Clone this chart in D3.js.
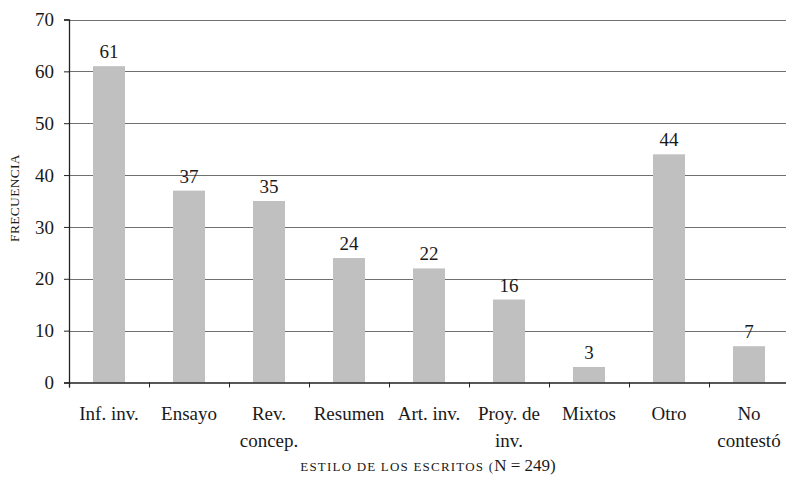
<!DOCTYPE html>
<html>
<head>
<meta charset="utf-8">
<script src="https://cdn.jsdelivr.net/npm/d3@7"></script>
<style>
  html, body { margin: 0; padding: 0; background: #fff; }
  svg { display: block; }
</style>
</head>
<body>
<svg id="chart" width="786" height="485"></svg>
<script>
// Frecuencia de cada estilo de escrito
const categories = ["Inf. inv.", "Ensayo", "Rev. concep.", "Resumen", "Art. inv.", "Proy. de inv.", "Mixtos", "Otro", "No contestó"];
const categoryLines = [["Inf. inv."], ["Ensayo"], ["Rev.", "concep."], ["Resumen"], ["Art. inv."], ["Proy. de", "inv."], ["Mixtos"], ["Otro"], ["No", "contestó"]];
const frequencies = [61, 37, 35, 24, 22, 16, 3, 44, 7];
const yTicks = [0, 10, 20, 30, 40, 50, 60, 70];
const yTitle = "FRECUENCIA";
const xTitleCaps = "ESTILO DE LOS ESCRITOS (";
const xTitleRest = "N = 249)";

const FONT = "'Liberation Serif', 'Times New Roman', Times, serif";
const INK = "#1a1a1a";

const svg = d3.select("#chart");
const plotLeft = 69, plotRight = 789, plotTop = 19.5, plotBottom = 382.5;

const x = d3.scaleBand()
  .domain(categories)
  .range([plotLeft, plotRight])
  .paddingInner(0.6)
  .paddingOuter(0.3);

const y = d3.scaleLinear().domain([0, 70]).range([plotBottom, plotTop]);

// horizontal gridlines
svg.append("g")
  .selectAll("line")
  .data(yTicks.filter(d => d > 0))
  .join("line")
  .attr("x1", plotLeft).attr("x2", 786)
  .attr("y1", d => Math.round(y(d)) + 0.5)
  .attr("y2", d => Math.round(y(d)) + 0.5)
  .attr("stroke", "#707070")
  .attr("stroke-width", 1.2);

// bars
svg.append("g")
  .selectAll("rect")
  .data(frequencies)
  .join("rect")
  .attr("x", (d, i) => x(categories[i]))
  .attr("width", x.bandwidth())
  .attr("y", d => y(d))
  .attr("height", d => y(0) - y(d))
  .attr("fill", "#c0c0c0");

// value labels
svg.append("g")
  .selectAll("text")
  .data(frequencies)
  .join("text")
  .attr("x", (d, i) => x(categories[i]) + x.bandwidth() / 2)
  .attr("y", d => y(d) - 8)
  .attr("text-anchor", "middle")
  .attr("font-family", FONT)
  .attr("font-size", 19)
  .attr("fill", INK)
  .text(d => d);

// y axis
const yAxis = svg.append("g")
  .attr("transform", `translate(${plotLeft},0)`)
  .call(d3.axisLeft(y).tickValues(yTicks).tickSize(5).tickPadding(10).tickFormat(d3.format("d")))
  .attr("font-family", FONT)
  .attr("font-size", 19);
yAxis.select(".domain").attr("stroke", "#222").attr("stroke-width", 1.3);
yAxis.selectAll(".tick line").attr("stroke", "#222");
yAxis.selectAll(".tick text").attr("fill", INK);

// x axis: ticks at category boundaries
const xb = d3.scaleLinear().domain([0, categories.length]).range([plotLeft, plotRight]);
const xAxis = svg.append("g")
  .attr("transform", `translate(0,${plotBottom})`)
  .call(d3.axisBottom(xb).tickValues(d3.range(0, categories.length + 1)).tickSize(5).tickFormat(""));
xAxis.select(".domain").attr("stroke", "#222").attr("stroke-width", 1.3);
xAxis.selectAll(".tick line").attr("stroke", "#222");

// category labels
const catG = svg.append("g")
  .attr("font-family", FONT)
  .attr("font-size", 19)
  .attr("fill", INK);
categoryLines.forEach((lines, i) => {
  const cx = x(categories[i]) + x.bandwidth() / 2;
  const t = catG.append("text")
    .attr("x", cx)
    .attr("y", 420)
    .attr("text-anchor", "middle");
  lines.forEach((ln, j) => {
    t.append("tspan")
      .attr("x", cx)
      .attr("dy", j === 0 ? 0 : 27)
      .text(ln);
  });
});

// axis titles
svg.append("text")
  .attr("transform", "translate(19,198) rotate(-90)")
  .attr("text-anchor", "middle")
  .attr("font-family", FONT)
  .attr("font-size", 13.5)
  .attr("fill", INK)
  .style("letter-spacing", "0.3px")
  .text(yTitle);

const xt = svg.append("text")
  .attr("x", 428)
  .attr("y", 471)
  .attr("text-anchor", "middle")
  .attr("font-family", FONT)
  .attr("fill", INK);
xt.append("tspan").attr("font-size", 13).style("letter-spacing", "1.2px").text(xTitleCaps);
xt.append("tspan").attr("font-size", 17).text(xTitleRest);
</script>
</body>
</html>
